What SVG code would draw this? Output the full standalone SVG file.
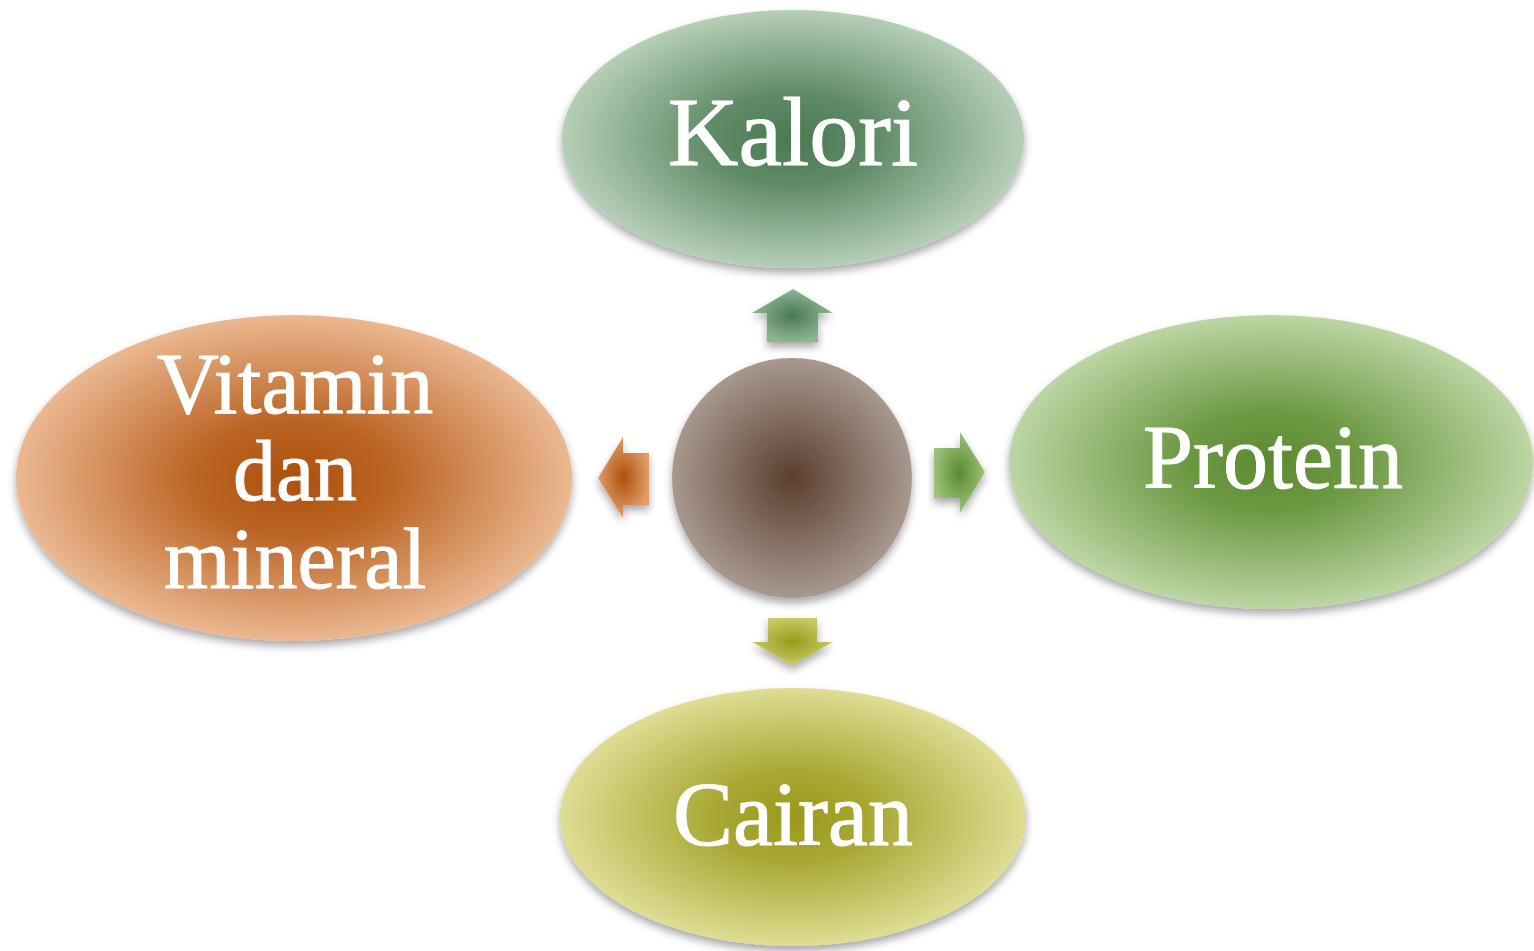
<svg xmlns="http://www.w3.org/2000/svg" width="1534" height="951" viewBox="0 0 1534 951">
<defs>
<filter id="sh" x="-10%" y="-10%" width="120%" height="130%">
<feDropShadow dx="0" dy="5" stdDeviation="4" flood-color="#000" flood-opacity="0.35"/>
</filter>
<radialGradient id="gHub"><stop offset="0" stop-color="#5a3f2e"/><stop offset="1" stop-color="#a8988f"/></radialGradient>
<radialGradient id="gK"><stop offset="0" stop-color="#4a7a52"/><stop offset="0.35" stop-color="#5f8a66"/><stop offset="1" stop-color="#b6cfb7"/></radialGradient>
<radialGradient id="gP"><stop offset="0" stop-color="#5a8a2e"/><stop offset="0.35" stop-color="#6e9a45"/><stop offset="1" stop-color="#bcd6a4"/></radialGradient>
<radialGradient id="gC"><stop offset="0" stop-color="#999a1c"/><stop offset="0.35" stop-color="#a9a834"/><stop offset="1" stop-color="#dedd94"/></radialGradient>
<radialGradient id="gV"><stop offset="0" stop-color="#ad500c"/><stop offset="0.35" stop-color="#bb6424"/><stop offset="1" stop-color="#ebb891"/></radialGradient>
<radialGradient id="aK"><stop offset="0" stop-color="#4a7a52"/><stop offset="1" stop-color="#8db592"/></radialGradient>
<radialGradient id="aP"><stop offset="0" stop-color="#5a8a2e"/><stop offset="1" stop-color="#9cc27a"/></radialGradient>
<radialGradient id="aC"><stop offset="0" stop-color="#999a1c"/><stop offset="1" stop-color="#c9c863"/></radialGradient>
<radialGradient id="aV"><stop offset="0" stop-color="#ad500c"/><stop offset="1" stop-color="#e19c68"/></radialGradient>
</defs>
<style>
.lbl{font-family:"Liberation Serif","DejaVu Serif",serif;fill:#fff;stroke:#fff;stroke-width:1;text-anchor:middle}
.s{filter:url(#sh)}
</style>
<g id="connectors">
<polygon class="s" fill="url(#aK)" points="793,289 833,313 818,313 818,342 767,342 767,313 752,313"/>
<polygon class="s" fill="url(#aP)" points="985,472 960,513 960,498 934,498 934,448 960,448 960,432"/>
<polygon class="s" fill="url(#aC)" points="792,665 833,642 817,642 817,618 768,618 768,642 752,642"/>
<polygon class="s" fill="url(#aV)" points="598,478 623,437 623,453 649,453 649,505 623,505 623,518"/>
</g>
<g id="hub"><circle class="s" cx="792" cy="478" r="120" fill="url(#gHub)"/></g>
<g id="kalori"><ellipse class="s" cx="793" cy="139" rx="231" ry="129" fill="url(#gK)"/><text class="lbl" x="793" y="165" font-size="98">Kalori</text></g>
<g id="protein"><ellipse class="s" cx="1271" cy="462" rx="262" ry="147" fill="url(#gP)"/><text class="lbl" x="1273" y="488" font-size="90">Protein</text></g>
<g id="cairan"><ellipse class="s" cx="793" cy="817" rx="233" ry="129" fill="url(#gC)"/><text class="lbl" x="793" y="845" font-size="90">Cairan</text></g>
<g id="vitamin"><ellipse class="s" cx="294" cy="478" rx="278" ry="163" fill="url(#gV)"/><text class="lbl" font-size="86"><tspan x="295" y="413">Vitamin</tspan><tspan x="295" y="500">dan</tspan><tspan x="295" y="588">mineral</tspan></text></g>
</svg>
